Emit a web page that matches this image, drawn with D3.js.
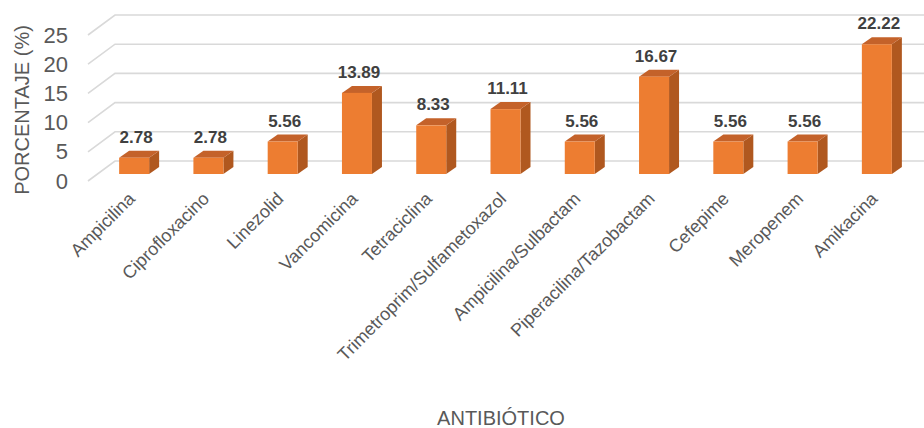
<!DOCTYPE html>
<html><head><meta charset="utf-8">
<script src="https://cdn.jsdelivr.net/npm/d3@7"></script>
<style>body{margin:0;background:#fff;}svg{display:block;font-family:"Liberation Sans",Arial,sans-serif;}</style>
</head><body>
<script>
const categories=["Ampicilina","Ciprofloxacino","Linezolid","Vancomicina","Tetraciclina","Trimetroprim/Sulfametoxazol","Ampicilina/Sulbactam","Piperacilina/Tazobactam","Cefepime","Meropenem","Amikacina"];
const values=[2.78,2.78,5.56,13.89,8.33,11.11,5.56,16.67,5.56,5.56,22.22];
const yTicks=[0,5,10,15,20,25];
const yTitle="PORCENTAJE (%)";
const xTitle="ANTIBIÓTICO";

const W=924,H=428;
const svg=d3.select("body").append("svg").attr("width",W).attr("height",H);
const x=d3.scaleBand().domain(categories).range([97,914]);
const y=d3.scaleLinear().domain([0,25]).range([174,28]);
const yFront=d3.scaleLinear().domain([0,25]).range([181,35]);
const yBack=d3.scaleLinear().domain([0,25]).range([161,15]);
const depthX=10, depthY=-7, barW=30;

// gridlines
const grid=svg.append("g");
yTicks.forEach(t=>{
  grid.append("polyline")
    .attr("points",`88,${yFront(t)} 115,${yBack(t)} ${W},${yBack(t)}`)
    .attr("fill","none").attr("stroke","#d9d9d9").attr("stroke-width",1.6);
});

// bars
const bars=svg.append("g");
categories.forEach((c,i)=>{
  const cx=x(c)+x.bandwidth()/2;
  const l=cx-barW/2, r=cx+barW/2, top=y(values[i]), bot=y(0);
  bars.append("polygon").attr("points",`${r},${top} ${r+depthX},${top+depthY} ${r+depthX},${bot+depthY} ${r},${bot}`).attr("fill","#b0581f");
  bars.append("polygon").attr("points",`${l},${top} ${l+depthX},${top+depthY} ${r+depthX},${top+depthY} ${r},${top}`).attr("fill","#c4622a");
  bars.append("rect").attr("x",l).attr("y",top).attr("width",barW).attr("height",bot-top).attr("fill","#ed7d31");
  svg.append("text").attr("x",cx+2).attr("y",top-15).attr("text-anchor","middle")
    .attr("font-size",17).attr("font-weight","bold").attr("fill","#404040").text(values[i].toFixed(2));
});

// y axis labels
const yAxis=svg.append("g").attr("transform","translate(68,0)")
  .call(d3.axisLeft(yFront).tickValues(yTicks).tickSize(0).tickPadding(0));
yAxis.select(".domain").remove();
yAxis.selectAll("text").attr("font-size",22).attr("fill","#595959").attr("font-family","Liberation Sans, Arial, sans-serif");

// x axis labels
const xAxis=svg.append("g").attr("transform","translate(0,200)")
  .call(d3.axisBottom(x).tickSize(0).tickPadding(0));
xAxis.select(".domain").remove();
xAxis.selectAll("text").attr("font-size",18).attr("fill","#595959").attr("font-family","Liberation Sans, Arial, sans-serif")
  .attr("text-anchor","end").attr("x",0).attr("y",0).attr("dy","0.3em")
  .attr("transform","translate(-2,-4) rotate(-45)");

// titles
svg.append("text").attr("transform","translate(29,110) rotate(-90)").attr("text-anchor","middle")
  .attr("font-size",20).attr("fill","#595959").text(yTitle);
svg.append("text").attr("x",501).attr("y",425).attr("text-anchor","middle")
  .attr("font-size",20).attr("fill","#595959").text(xTitle);
</script>
</body></html>
